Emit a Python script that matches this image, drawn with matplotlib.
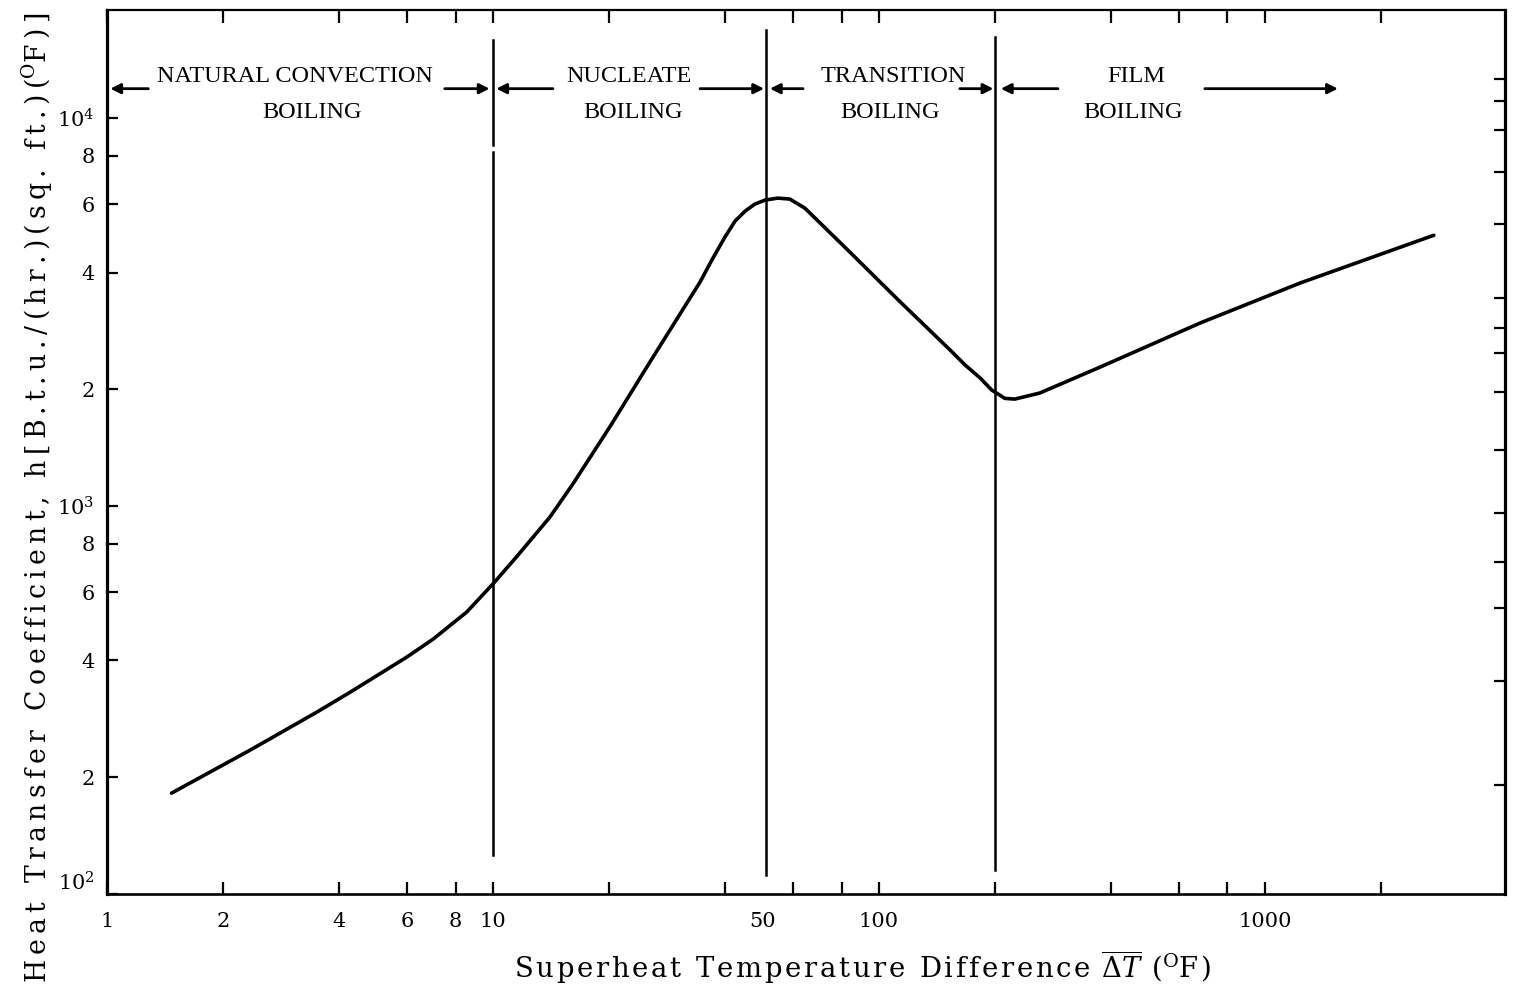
import matplotlib
matplotlib.use('Agg')
import matplotlib.pyplot as plt
import matplotlib.transforms as mtransforms
from matplotlib.ticker import FixedLocator, FixedFormatter, NullLocator, NullFormatter

# ---- data ----
dT = [1.47, 2.35, 3.49, 4.26, 5.98, 7.00, 8.55, 10.1, 11.5, 14.05, 16.1,
      20.3, 25.5, 34.4, 36.9, 39.9, 42.4, 45.0, 47.7, 50.7, 54.7, 58.8,
      64.3, 84.1, 113, 153, 167, 183, 196, 212, 225, 261, 374, 679, 1233, 2740]
h = [182, 235, 294, 331, 408, 454, 533, 637, 739, 937, 1139,
     1627, 2350, 3779, 4305, 4936, 5428, 5758, 6003, 6148, 6221, 6185,
     5861, 4515, 3376, 2524, 2313, 2138, 1991, 1895, 1887, 1956, 2281, 2963, 3757, 4990]

boundaries = [10, 51, 200]

regions_line1 = ["NATURAL CONVECTION", "NUCLEATE", "TRANSITION", "FILM"]
regions_line1_x = [3.07, 22.5, 108.7, 463]
regions_line2 = ["BOILING", "BOILING", "BOILING", "BOILING"]
regions_line2_x = [3.40, 23.0, 106.7, 455]

# arrows: (tail, head) in data x
arrows = [(1.28, 1.02), (7.5, 9.8), (14.3, 10.2), (34.4, 50.4),
          (63.6, 52.2), (162, 198), (291, 207), (699, 1546)]

xtick_pos = [1, 2, 4, 6, 8, 10, 20, 40, 60, 80, 100, 200, 400, 600, 800, 1000, 2000]
xtick_lbl = ['1', '2', '4', '6', '8', '10', '', '', '', '', '100', '', '', '', '', '1000', '']
xextra_pos = [50]
xextra_lbl = ['50']

ytick_pos = [100, 200, 400, 600, 800, 1000, 2000, 4000, 6000, 8000, 10000]
ytick_lbl = ['$10^{2}$', '2', '4', '6', '8', '$10^{3}$', '2', '4', '6', '8', '$10^{4}$']

right_ticks = [191, 354, 546, 717, 959, 1395, 1967, 2480, 2875, 3436,
               5330, 7260, 9310, 11060, 12600]


def spaced(s, sp):
    return sp.join(s)


HAIR = '\u200a'
THIN = '\u2009'

plt.rcParams['mathtext.fontset'] = 'dejavuserif'
plt.rcParams['font.family'] = ['DejaVu Serif']

fig = plt.figure(figsize=(15.13, 9.88), dpi=100)
ax = fig.add_axes([107/1513, 94/988, (1505-107)/1513, 884/988])
ax.set_xscale('log')
ax.set_yscale('log')
ax.set_xlim(1, 4190)
ax.set_ylim(100, 19000)

ax.plot(dT, h, color='black', lw=2.6, solid_joinstyle='round', solid_capstyle='round')

# vertical boundary lines (axes-fraction extents)
ax.axvline(boundaries[0], ymin=0.044, ymax=0.839, color='black', lw=1.8)
ax.axvline(boundaries[0], ymin=0.847, ymax=0.966, color='black', lw=1.8)
ax.axvline(boundaries[1], ymin=0.0215, ymax=0.977, color='black', lw=1.8)
ax.axvline(boundaries[2], ymin=0.027, ymax=0.969, color='black', lw=1.8)

trans = mtransforms.blended_transform_factory(ax.transData, ax.transAxes)
for t, x in zip(regions_line1, regions_line1_x):
    ax.text(x, 0.925, t, transform=trans, ha='center', va='center',
            fontsize=17.5, family='Liberation Serif')
for t, x in zip(regions_line2, regions_line2_x):
    ax.text(x, 0.884, t, transform=trans, ha='center', va='center',
            fontsize=17.5, family='Liberation Serif')
for tail, head in arrows:
    ax.annotate('', xy=(head, 0.911), xytext=(tail, 0.911),
                xycoords=trans, textcoords=trans,
                arrowprops=dict(arrowstyle='-|>', lw=2.0, color='black',
                                mutation_scale=15, shrinkA=0, shrinkB=0))

# ticks
ax.xaxis.set_major_locator(FixedLocator(xtick_pos))
ax.xaxis.set_major_formatter(FixedFormatter(xtick_lbl))
ax.xaxis.set_minor_locator(FixedLocator(xextra_pos))
ax.xaxis.set_minor_formatter(FixedFormatter(xextra_lbl))
ax.yaxis.set_major_locator(FixedLocator(ytick_pos))
ax.yaxis.set_major_formatter(FixedFormatter(ytick_lbl))
ax.yaxis.set_minor_locator(NullLocator())

ax.tick_params(axis='x', which='major', direction='in', length=9, width=1.6,
               labelsize=15, pad=13, top=True, bottom=True)
ax.tick_params(axis='x', which='minor', direction='in', length=0,
               labelsize=15, pad=13, top=False)
ax.tick_params(axis='y', which='major', direction='in', length=8, width=1.6,
               labelsize=15, pad=9, left=True, right=False)
ax.yaxis.get_major_ticks()[0].label1.set_verticalalignment('bottom')

ax.spines['left'].set_linewidth(2.3)
ax.spines['bottom'].set_linewidth(1.9)
ax.spines['top'].set_linewidth(1.6)
ax.spines['right'].set_linewidth(2.3)

ax2 = ax.twinx()
ax2.set_yscale('log')
ax2.set_ylim(100, 19000)
ax2.yaxis.set_major_locator(FixedLocator(right_ticks))
ax2.yaxis.set_major_formatter(NullFormatter())
ax2.yaxis.set_minor_locator(NullLocator())
ax2.tick_params(axis='y', direction='in', length=8, width=1.6)
for s in ax2.spines.values():
    s.set_visible(False)

xlabel = (spaced('Superheat Temperature Difference ', HAIR) + r'$\overline{\Delta T}$'
          + spaced(' (', HAIR) + r'$^{\rm O}$' + spaced('F)', HAIR))
ylabel = (spaced('Heat Transfer Coefficient, h[B.t.u./(hr.)(sq. ft.)(', THIN)
          + r'$^{\rm O}$' + spaced('F)]', THIN))

fig.text(863/1513, 1 - 978/988, xlabel,
         ha='center', va='baseline', fontsize=19.8)
fig.text(37/1513, 1 - 498/988, ylabel,
         ha='center', va='center', rotation=90, fontsize=19.2)

fig.savefig('out.png', dpi=100, facecolor='white')
